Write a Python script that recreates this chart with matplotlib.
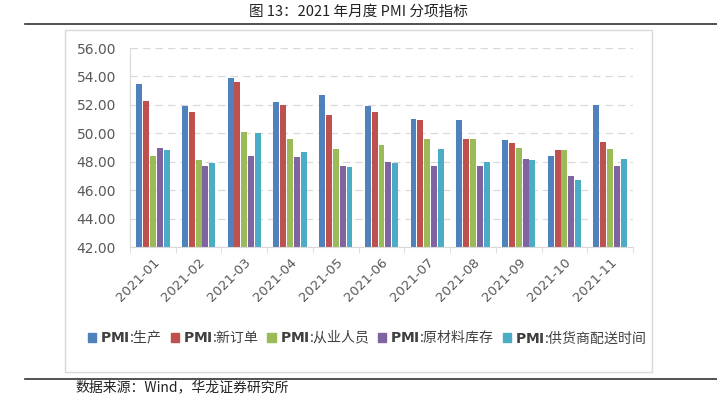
import numpy as np
import matplotlib.pyplot as plt
from matplotlib.patches import Rectangle
from matplotlib.lines import Line2D

plt.rcParams['font.family'] = ['Noto Sans CJK SC', 'DejaVu Sans']

months = ['2021-01', '2021-02', '2021-03', '2021-04', '2021-05', '2021-06',
          '2021-07', '2021-08', '2021-09', '2021-10', '2021-11']
production = [53.5, 51.9, 53.9, 52.2, 52.7, 51.9, 51.0, 50.9, 49.5, 48.4, 52.0]
new_orders = [52.3, 51.5, 53.6, 52.0, 51.3, 51.5, 50.9, 49.6, 49.3, 48.8, 49.4]
employment = [48.4, 48.1, 50.1, 49.6, 48.9, 49.2, 49.6, 49.6, 49.0, 48.8, 48.9]
raw_inventory = [49.0, 47.7, 48.4, 48.3, 47.7, 48.0, 47.7, 47.7, 48.2, 47.0, 47.7]
delivery_time = [48.8, 47.9, 50.0, 48.7, 47.6, 47.9, 48.9, 48.0, 48.1, 46.7, 48.2]

series = [production, new_orders, employment, raw_inventory, delivery_time]
names = ['生产', '新订单', '从业人员', '原材料库存', '供货商配送时间']
colors = ['#4F81BD', '#C0504D', '#9BBB59', '#8064A2', '#4BACC6']

fig = plt.figure(figsize=(7.17, 3.94), dpi=100)
W, H = 717, 394

# title and rules
fig.text(358 / W, 1 - 12 / H, '图 13：2021 年月度 PMI 分项指标', ha='center', va='center',
         fontsize=10.5, color='#222222')
fig.add_artist(Line2D([25 / W, 1], [1 - 24 / H] * 2, color='#333333', lw=1.2))
fig.add_artist(Line2D([25 / W, 1], [1 - 379 / H] * 2, color='#333333', lw=1.2))
fig.text(75 / W, 1 - 387 / H, '数据来源：Wind，华龙证券研究所', ha='left', va='center',
         fontsize=10, color='#222222')

# chart frame
fig.add_artist(Rectangle((65 / W, 1 - 372 / H), (652 - 65) / W, (372 - 30) / H,
                         fill=False, edgecolor='#D9D9D9', lw=1.0))

ax = fig.add_axes([130 / W, 1 - 247 / H, (633 - 130) / W, (247 - 48) / H])
x = np.arange(len(months))
step = 0.15
width = 0.13
for i, (vals, c) in enumerate(zip(series, colors)):
    ax.bar(x + (i - 2) * step, np.array(vals) - 42, bottom=42, width=width, color=c)

ax.set_ylim(42, 56)
ax.set_yticks(np.arange(42, 56.1, 2))
ax.set_yticklabels([f'{v:.2f}' for v in np.arange(42, 56.1, 2)])
ax.set_xlim(-0.5, len(months) - 0.5)
ax.set_xticks(x)
ax.set_xticklabels(months, rotation=45, ha='right', rotation_mode='anchor',
                   fontfamily='DejaVu Sans')
ax.set_xticks(np.arange(-0.5, len(months), 1), minor=True)
ax.tick_params(axis='x', which='major', length=0, pad=6, labelsize=9.5, colors='#595959')
ax.tick_params(axis='x', which='minor', length=4, color='#D9D9D9')
ax.tick_params(axis='y', length=0, labelsize=10, colors='#595959', pad=10)
for lbl in ax.get_yticklabels():
    lbl.set_fontfamily('DejaVu Sans')

ax.yaxis.grid(True, linestyle=(0, (6, 4)), color='#D9D9D9', lw=0.9)
ax.set_axisbelow(True)
for s in ['top', 'right']:
    ax.spines[s].set_visible(False)
ax.spines['left'].set_color('#D9D9D9')
ax.spines['bottom'].set_color('#D9D9D9')

handles = [Rectangle((0, 0), 1, 1, color=c) for c in colors]
labels = [r'$\mathbf{PMI}$:' + n for n in names]
fig.legend(handles, labels, loc='center', bbox_to_anchor=(367 / W, 1 - 337 / H),
           ncol=5, frameon=False, fontsize=10, handlelength=0.6, handleheight=0.6,
           handletextpad=0.3, columnspacing=0.6, labelcolor='#404040')

plt.savefig('out.png', dpi=100)
